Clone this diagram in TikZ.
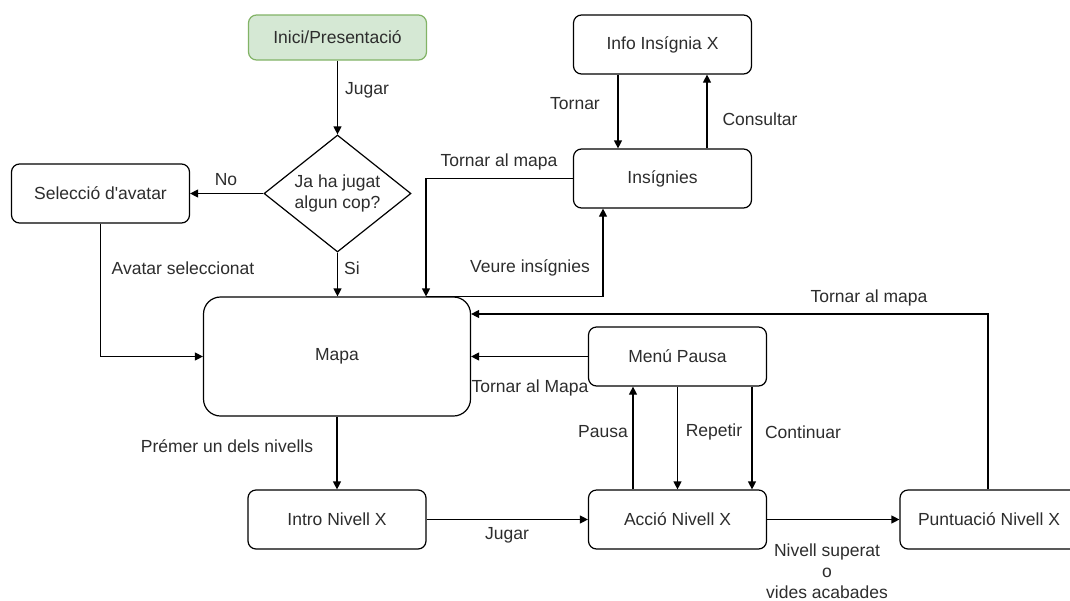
\documentclass[tikz,border=0pt]{standalone}
\usepackage{fontspec}
\setmainfont{Liberation Sans}
\usetikzlibrary{arrows.meta,shapes.geometric}
\definecolor{txt}{RGB}{45,45,45}
\definecolor{gfill}{RGB}{213,232,212}
\definecolor{gline}{RGB}{130,179,102}
\begin{document}
\begin{tikzpicture}[x=1pt,y=-1pt,
  font=\fontsize{17.5}{21}\selectfont, text=txt,
  box/.style={draw=black, line width=1.2pt, rounded corners=8pt, inner sep=0pt,
    minimum width=178pt, minimum height=59pt},
  arr/.style={draw=black, line width=1.2pt, -{Triangle[length=8pt,width=8pt]}},
  lbl/.style={inner sep=0pt, align=center}]
\useasboundingbox (0,0) rectangle (1070,600);
\fill[white] (0,0) rectangle (1070,600);
% nodes
\node[box, fill=gfill, draw=gline, minimum height=45pt] (inici) at (337.5,37.5) {Inici/Presentació};
\node[draw=black, line width=1.2pt, diamond, inner sep=0pt, minimum width=147pt, minimum height=117pt,
  label={[lbl, name=dect]center:Ja ha jugat\\algun cop?}] (dec) at (337.5,193.5) {};
\node[box] (sel) at (100.5,193.5) {Selecció d\textquotesingle avatar};
\node[box] (info) at (662.5,44.5) {Info Insígnia X};
\node[box] (ins) at (662.5,178.5) {Insígnies};
\node[box, rounded corners=17pt, minimum width=267pt, minimum height=119pt] (mapa) at (337,356.5) {Mapa};
\node[box] (menu) at (677.5,356.5) {Menú Pausa};
\node[box] (intro) at (337,519.5) {Intro Nivell X};
\node[box] (accio) at (677.5,519.5) {Acció Nivell X};
\node[box] (punt) at (989,519.5) {Puntuació Nivell X};
% connectors
\draw[arr] (inici.south) -- (dec.north);
\draw[arr] (dec.west) -- (sel.east);
\draw[arr] (dec.south) -- (dec.south |- mapa.north);
\draw[arr] (sel.south) |- (mapa.west);
\draw[arr] (ins.west) -| ([xshift=89pt]mapa.north);
\draw[arr] ([xshift=89pt]mapa.north) -| ([xshift=-59.5pt]ins.south);
\draw[arr] ([xshift=-44.5pt]info.south) -- ([xshift=-44.5pt]ins.north);
\draw[arr] ([xshift=44.5pt]ins.north) -- ([xshift=44.5pt]info.south);
\draw[arr] (mapa.south) -- (intro.north);
\draw[arr] (intro.east) -- (accio.west);
\draw[arr] ([xshift=-44.5pt]accio.north) -- ([xshift=-44.5pt]menu.south);
\draw[arr] (menu.south) -- (accio.north);
\draw[arr] ([xshift=74.5pt]menu.south) -- ([xshift=74.5pt]accio.north);
\draw[arr] (menu.west) -- (menu.west -| mapa.east);
\draw[arr] (accio.east) -- (punt.west);
\draw[arr] ([xshift=-1pt]punt.north) |- ([yshift=42.5pt]mapa.east);
% labels
\node[lbl] (l1) at (367,90) {Jugar};
\node[lbl] (l2) at (226,180) {No};
\node[lbl] (l3) at (352,268) {Si};
\node[lbl] (l4) at (183,268) {Avatar seleccionat};
\node[lbl] (l5) at (499,162) {Tornar al mapa};
\node[lbl] (l6) at (530,268) {Veure insígnies};
\node[lbl] (l7) at (575,104) {Tornar};
\node[lbl] (l8) at (760,119) {Consultar};
\node[lbl] (l9) at (227,446) {Prémer un dels nivells};
\node[lbl] (l10) at (507,535) {Jugar};
\node[lbl] (l11) at (603,432) {Pausa};
\node[lbl] (l12) at (714,432) {Repetir};
\node[lbl] (l13) at (803,432) {Continuar};
\node[lbl] (l14) at (530,388) {Tornar al Mapa};
\node[lbl, font=\fontsize{17.5}{21}\selectfont] (l15) at (827,571) {Nivell superat\\o\\vides acabades};
\node[lbl] (l16) at (869,298) {Tornar al mapa};
\end{tikzpicture}
\end{document}
